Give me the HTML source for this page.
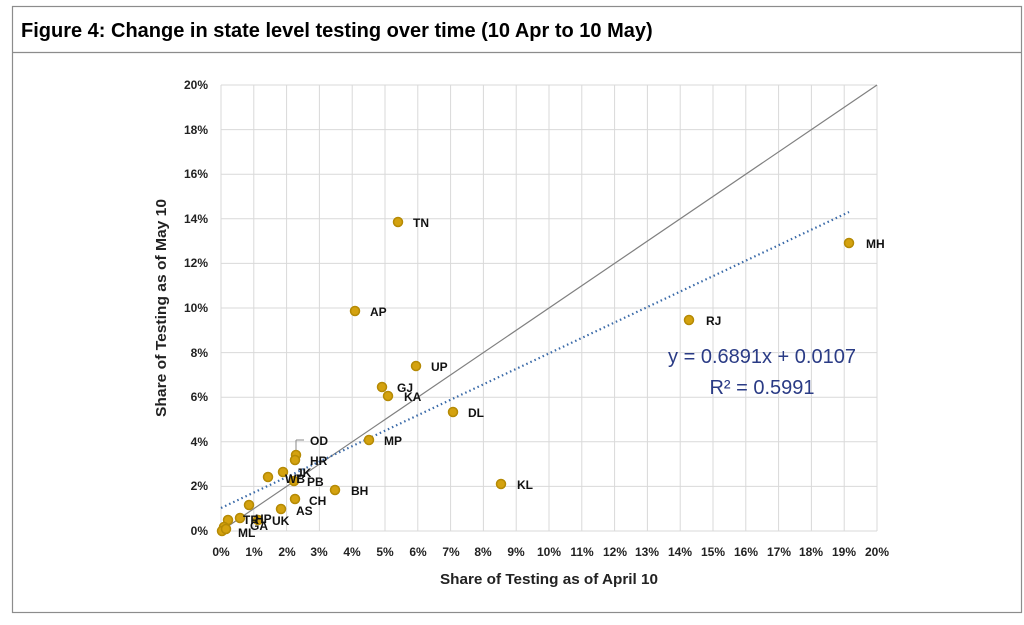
<!DOCTYPE html>
<html><head><meta charset="utf-8"><style>
body{margin:0;background:#fff;width:1024px;height:620px;overflow:hidden}
</style></head><body>
<svg width="1024" height="620" xmlns="http://www.w3.org/2000/svg" font-family="Liberation Sans, sans-serif">
<rect x="12.5" y="6.5" width="1009" height="606" fill="#fff" stroke="#8c8c8c" stroke-width="1.2"/>
<line x1="12" y1="52.5" x2="1022" y2="52.5" stroke="#8c8c8c" stroke-width="1.2"/>
<text x="21" y="37" font-size="20" font-weight="bold" fill="#000">Figure 4: Change in state level testing over time (10 Apr to 10 May)</text>
<g stroke="#d9d9d9" stroke-width="1">
<line x1="221" y1="85" x2="221" y2="531"/><line x1="253.8" y1="85" x2="253.8" y2="531"/><line x1="286.6" y1="85" x2="286.6" y2="531"/><line x1="319.4" y1="85" x2="319.4" y2="531"/><line x1="352.2" y1="85" x2="352.2" y2="531"/><line x1="385" y1="85" x2="385" y2="531"/><line x1="417.8" y1="85" x2="417.8" y2="531"/><line x1="450.6" y1="85" x2="450.6" y2="531"/><line x1="483.4" y1="85" x2="483.4" y2="531"/><line x1="516.2" y1="85" x2="516.2" y2="531"/><line x1="549" y1="85" x2="549" y2="531"/><line x1="581.8" y1="85" x2="581.8" y2="531"/><line x1="614.6" y1="85" x2="614.6" y2="531"/><line x1="647.4" y1="85" x2="647.4" y2="531"/><line x1="680.2" y1="85" x2="680.2" y2="531"/><line x1="713" y1="85" x2="713" y2="531"/><line x1="745.8" y1="85" x2="745.8" y2="531"/><line x1="778.6" y1="85" x2="778.6" y2="531"/><line x1="811.4" y1="85" x2="811.4" y2="531"/><line x1="844.2" y1="85" x2="844.2" y2="531"/><line x1="877" y1="85" x2="877" y2="531"/>
<line x1="221" y1="85" x2="877" y2="85"/><line x1="221" y1="129.6" x2="877" y2="129.6"/><line x1="221" y1="174.2" x2="877" y2="174.2"/><line x1="221" y1="218.8" x2="877" y2="218.8"/><line x1="221" y1="263.4" x2="877" y2="263.4"/><line x1="221" y1="308" x2="877" y2="308"/><line x1="221" y1="352.6" x2="877" y2="352.6"/><line x1="221" y1="397.2" x2="877" y2="397.2"/><line x1="221" y1="441.8" x2="877" y2="441.8"/><line x1="221" y1="486.4" x2="877" y2="486.4"/><line x1="221" y1="531" x2="877" y2="531"/>
</g>
<g font-size="12" font-weight="bold" fill="#222" text-anchor="end">
<text x="208" y="89">20%</text><text x="208" y="134">18%</text><text x="208" y="178">16%</text><text x="208" y="223">14%</text><text x="208" y="267">12%</text><text x="208" y="312">10%</text><text x="208" y="357">8%</text><text x="208" y="401">6%</text><text x="208" y="446">4%</text><text x="208" y="490">2%</text><text x="208" y="535">0%</text>
</g>
<g font-size="12" font-weight="bold" fill="#222" text-anchor="middle">
<text x="221" y="556">0%</text><text x="254" y="556">1%</text><text x="287" y="556">2%</text><text x="319" y="556">3%</text><text x="352" y="556">4%</text><text x="385" y="556">5%</text><text x="418" y="556">6%</text><text x="451" y="556">7%</text><text x="483" y="556">8%</text><text x="516" y="556">9%</text><text x="549" y="556">10%</text><text x="582" y="556">11%</text><text x="615" y="556">12%</text><text x="647" y="556">13%</text><text x="680" y="556">14%</text><text x="713" y="556">15%</text><text x="746" y="556">16%</text><text x="779" y="556">17%</text><text x="811" y="556">18%</text><text x="844" y="556">19%</text><text x="877" y="556">20%</text>
</g>
<text x="549" y="584" font-size="15" font-weight="bold" fill="#222" text-anchor="middle" textLength="218" lengthAdjust="spacingAndGlyphs">Share of Testing as of April 10</text>
<text transform="translate(166,308) rotate(-90)" font-size="15" font-weight="bold" fill="#222" text-anchor="middle" textLength="218" lengthAdjust="spacingAndGlyphs">Share of Testing as of May 10</text>
<line x1="221" y1="531" x2="877" y2="85" stroke="#808080" stroke-width="1.2"/>
<line x1="221" y1="508" x2="849" y2="212" stroke="#3a6aa8" stroke-width="2.2" stroke-dasharray="1.5 3"/>
<line x1="296" y1="453" x2="296" y2="440" stroke="#888" stroke-width="1"/><line x1="296" y1="440" x2="304" y2="440" stroke="#888"/>
<g fill="#d4a20f" stroke="#b58a05" stroke-width="1.5">
<circle cx="398" cy="222" r="4.5"/><circle cx="355" cy="311" r="4.5"/><circle cx="416" cy="366" r="4.5"/><circle cx="382" cy="387" r="4.5"/><circle cx="388" cy="396" r="4.5"/><circle cx="453" cy="412" r="4.5"/><circle cx="369" cy="440" r="4.5"/><circle cx="689" cy="320" r="4.5"/><circle cx="849" cy="243" r="4.5"/><circle cx="501" cy="484" r="4.5"/>
<circle cx="296" cy="455" r="4.5"/><circle cx="295" cy="460" r="4.5"/><circle cx="268" cy="477" r="4.5"/><circle cx="283" cy="472" r="4.5"/><circle cx="294" cy="481" r="4.5"/><circle cx="335" cy="490" r="4.5"/><circle cx="295" cy="499" r="4.5"/><circle cx="281" cy="509" r="4.5"/><circle cx="249" cy="505" r="4.5"/><circle cx="240" cy="518" r="4.5"/><circle cx="228" cy="520" r="4.5"/><circle cx="258" cy="520" r="4.5"/><circle cx="224" cy="527" r="4.5"/><circle cx="222" cy="531" r="4.5"/><circle cx="226" cy="529" r="4.5"/>
</g>
<g font-size="12" font-weight="bold" fill="#111">
<text x="413" y="227">TN</text><text x="370" y="316">AP</text><text x="431" y="371">UP</text><text x="397" y="392">GJ</text><text x="404" y="401">KA</text><text x="468" y="417">DL</text><text x="384" y="445">MP</text><text x="706" y="325">RJ</text><text x="866" y="248">MH</text><text x="517" y="489">KL</text>
<text x="310" y="445">OD</text><text x="310" y="465">HR</text><text x="296" y="477">JK</text><text x="285" y="483">WB</text><text x="307" y="486">PB</text><text x="351" y="495">BH</text><text x="309" y="505">CH</text><text x="296" y="515">AS</text><text x="272" y="525">UK</text><text x="255" y="523">HP</text><text x="243" y="524">TR</text><text x="250" y="530">GA</text><text x="238" y="537">ML</text>
</g>
<text x="762" y="363" font-size="20" fill="#2a3b85" text-anchor="middle">y = 0.6891x + 0.0107</text>
<text x="762" y="394" font-size="20" fill="#2a3b85" text-anchor="middle">R² = 0.5991</text>
</svg>
</body></html>
